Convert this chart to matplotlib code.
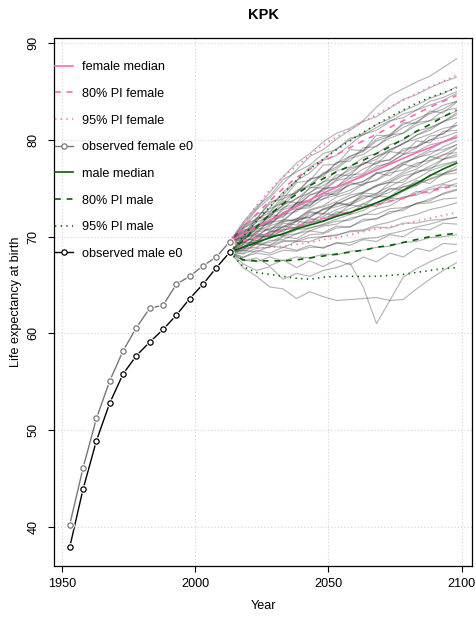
import matplotlib
matplotlib.use("Agg")
import matplotlib.pyplot as plt
from matplotlib.lines import Line2D

# Observed life expectancy at birth (5-year periods)
obs_years = [1953, 1958, 1963, 1968, 1973, 1978, 1983, 1988, 1993, 1998, 2003, 2008, 2013]
female_obs = [40.2, 46.1, 51.2, 55.1, 58.2, 60.6, 62.6, 62.9, 65.1, 65.9, 67.0, 67.9, 69.5]
male_obs = [37.9, 43.9, 48.9, 52.8, 55.8, 57.7, 59.1, 60.4, 61.9, 63.6, 65.1, 66.8, 68.4]

# Projection periods
proj_years = [2013, 2018, 2023, 2028, 2033, 2038, 2043, 2048, 2053,
              2058, 2063, 2068, 2073, 2078, 2083, 2088, 2093, 2098]

female_median = [69.5, 70.3, 71.0, 71.7, 72.4, 73.1, 73.8, 74.5, 75.1,
                 75.7, 76.3, 76.9, 77.5, 78.1, 78.7, 79.2, 79.8, 80.3]
female_80_low = [69.5, 69.6, 69.9, 70.3, 70.7, 71.1, 71.5, 71.9, 72.2,
                 72.6, 73.0, 73.3, 73.7, 74.0, 74.4, 74.7, 75.0, 75.3]
female_80_high = [69.5, 70.9, 72.3, 73.7, 75.0, 76.1, 77.0, 77.8, 78.5,
                  79.2, 79.9, 80.6, 81.3, 82.0, 82.7, 83.4, 84.0, 84.6]
female_95_low = [69.5, 68.9, 68.8, 68.9, 69.0, 69.2, 69.4, 69.7, 69.9,
                 70.2, 70.5, 70.8, 71.0, 71.3, 71.6, 71.9, 72.2, 72.5]
female_95_high = [69.5, 71.4, 73.2, 74.8, 76.2, 77.3, 78.4, 79.5, 80.3,
                  81.1, 81.9, 82.6, 83.4, 84.1, 84.8, 85.5, 86.1, 86.7]

male_median = [68.4, 68.9, 69.4, 69.9, 70.3, 70.8, 71.2, 71.6, 72.1,
               72.5, 73.0, 73.5, 74.1, 74.8, 75.5, 76.3, 77.0, 77.6]
male_80_low = [68.4, 67.6, 67.5, 67.5, 67.5, 67.6, 67.8, 68.0, 68.2,
               68.4, 68.6, 68.9, 69.1, 69.4, 69.7, 70.0, 70.2, 70.35]
male_80_high = [68.4, 69.6, 71.0, 72.3, 73.4, 74.4, 75.3, 76.0, 76.7,
                77.3, 77.9, 78.6, 79.3, 80.1, 80.9, 81.6, 82.4, 83.1]
male_95_low = [68.4, 66.9, 66.3, 66.1, 65.9, 65.7, 65.6, 65.8, 65.9,
               65.9, 65.9, 65.9, 66.0, 66.1, 66.3, 66.5, 66.7, 66.8]
male_95_high = [68.4, 70.0, 71.6, 73.1, 74.5, 75.8, 77.0, 78.0, 79.0,
                79.9, 80.8, 81.6, 82.4, 83.1, 83.8, 84.4, 84.9, 85.4]

# A sample of simulated trajectories (both sexes)
trajectories = [
    [69.5, 71.3, 72.9, 74.6, 76.2, 77.6, 78.6, 79.8, 80.7, 81.2, 82.0, 83.4, 84.6, 85.3, 86.0, 86.6, 87.5, 88.4],
    [69.5, 71.0, 72.8, 74.0, 75.5, 76.9, 78.3, 79.0, 80.1, 81.0, 81.9, 82.4, 83.3, 84.2, 84.7, 85.4, 86.0, 86.5],
    [69.5, 70.8, 71.9, 73.4, 74.3, 75.8, 76.6, 77.9, 78.4, 79.5, 80.6, 81.0, 81.9, 82.7, 83.1, 84.0, 84.4, 85.0],
    [69.5, 70.4, 71.8, 72.5, 73.9, 74.6, 75.9, 76.4, 77.6, 78.3, 78.9, 80.1, 80.6, 81.6, 82.2, 82.8, 83.6, 84.0],
    [69.5, 70.9, 71.6, 72.9, 73.5, 74.8, 75.2, 76.5, 77.0, 78.1, 78.5, 79.4, 80.2, 80.7, 81.5, 82.0, 82.4, 83.0],
    [69.5, 70.2, 71.5, 72.1, 73.3, 73.9, 75.0, 75.6, 76.8, 77.2, 78.2, 78.6, 79.5, 80.0, 80.9, 81.3, 81.9, 82.3],
    [69.5, 70.6, 71.1, 72.4, 72.9, 74.0, 74.5, 75.7, 76.0, 77.1, 77.5, 78.3, 78.8, 79.7, 80.1, 80.6, 81.2, 81.5],
    [69.5, 70.1, 71.2, 71.6, 72.8, 73.2, 74.3, 74.7, 75.8, 76.1, 77.0, 77.6, 78.0, 78.9, 79.3, 80.0, 80.3, 80.8],
    [69.5, 70.5, 70.9, 72.0, 72.3, 73.5, 73.8, 74.9, 75.2, 76.0, 76.4, 77.3, 77.6, 78.5, 78.8, 79.5, 79.8, 80.2],
    [69.5, 69.9, 71.0, 71.3, 72.3, 72.6, 73.6, 73.9, 74.7, 75.3, 75.7, 76.6, 76.9, 77.7, 78.1, 78.8, 79.0, 79.5],
    [69.5, 70.3, 70.6, 71.5, 71.7, 72.8, 73.0, 73.9, 74.3, 74.8, 75.5, 75.8, 76.6, 76.9, 77.6, 77.9, 78.5, 78.7],
    [69.5, 69.7, 70.5, 70.7, 71.6, 71.8, 72.7, 73.1, 73.6, 74.3, 74.6, 75.3, 75.6, 76.3, 76.6, 77.1, 77.5, 77.8],
    [69.5, 70.0, 70.1, 70.9, 71.0, 71.9, 72.0, 72.8, 73.1, 73.5, 74.1, 74.3, 74.9, 75.1, 75.6, 75.9, 76.4, 76.6],
    [69.5, 69.4, 70.0, 70.0, 70.7, 70.9, 71.5, 71.6, 72.3, 72.5, 73.0, 73.3, 73.6, 74.1, 74.3, 74.9, 75.1, 75.5],
    [69.5, 69.8, 69.6, 70.2, 70.1, 70.7, 70.9, 71.2, 71.6, 71.7, 72.3, 72.3, 72.9, 73.0, 73.4, 73.5, 73.9, 74.0],
    [69.5, 69.0, 69.2, 69.1, 69.6, 69.5, 69.9, 70.0, 70.2, 70.5, 70.6, 71.0, 70.9, 71.4, 71.4, 71.7, 71.8, 72.0],
    [69.5, 71.2, 71.8, 73.6, 73.9, 75.6, 75.8, 77.4, 77.5, 79.0, 78.9, 80.5, 80.4, 81.8, 81.7, 83.0, 82.8, 83.9],
    [69.5, 70.0, 71.9, 72.0, 73.7, 73.5, 75.1, 75.0, 76.4, 76.3, 77.7, 77.5, 78.8, 78.6, 79.9, 79.7, 80.9, 81.0],
    [69.5, 70.7, 70.8, 72.3, 72.1, 73.4, 73.2, 74.5, 74.3, 75.6, 75.3, 76.6, 76.3, 77.5, 77.2, 78.3, 78.0, 79.1],
    [69.5, 69.6, 70.9, 70.7, 71.8, 71.6, 72.6, 72.4, 73.5, 73.2, 74.3, 74.0, 75.0, 74.8, 75.8, 75.5, 76.5, 76.9],
    [69.5, 70.9, 72.4, 72.6, 74.2, 74.5, 76.0, 76.2, 77.7, 77.8, 79.2, 79.3, 80.5, 80.7, 81.8, 82.0, 83.0, 83.3],
    [69.5, 70.4, 71.0, 71.4, 72.5, 72.9, 73.4, 74.2, 74.5, 75.4, 75.7, 76.5, 76.9, 77.6, 78.2, 78.5, 79.3, 79.9],
    [69.5, 69.3, 70.3, 70.1, 71.1, 70.9, 71.9, 71.6, 72.6, 72.3, 73.4, 73.1, 74.0, 73.9, 74.7, 74.5, 75.4, 75.2],
    [69.5, 71.5, 73.1, 74.2, 75.9, 76.7, 77.4, 78.6, 79.0, 80.2, 80.5, 81.3, 82.0, 82.3, 83.1, 83.6, 84.1, 84.8],
    [68.4, 69.9, 71.6, 73.0, 74.6, 75.8, 77.2, 78.0, 79.1, 80.0, 80.7, 81.6, 82.2, 83.0, 83.6, 84.3, 84.8, 85.5],
    [68.4, 69.6, 70.8, 72.3, 73.2, 74.6, 75.4, 76.6, 77.2, 78.3, 78.8, 79.9, 80.4, 81.3, 81.9, 82.7, 83.2, 84.0],
    [68.4, 69.2, 70.5, 71.2, 72.5, 73.1, 74.3, 74.9, 75.9, 76.6, 77.5, 78.0, 79.0, 79.6, 80.5, 81.2, 81.9, 82.8],
    [68.4, 69.5, 69.9, 71.1, 71.6, 72.8, 73.2, 74.3, 74.8, 75.7, 76.2, 77.1, 77.7, 78.5, 79.2, 80.0, 80.7, 81.5],
    [68.4, 68.9, 70.0, 70.4, 71.5, 71.8, 72.8, 73.2, 74.1, 74.5, 75.4, 75.9, 76.8, 77.4, 78.3, 79.0, 79.8, 80.5],
    [68.4, 69.2, 69.5, 70.5, 70.8, 71.7, 72.0, 72.9, 73.3, 74.0, 74.6, 75.3, 75.9, 76.7, 77.4, 78.2, 78.8, 79.5],
    [68.4, 68.7, 69.6, 69.8, 70.7, 71.0, 71.7, 72.1, 72.8, 73.3, 73.9, 74.5, 75.2, 75.9, 76.6, 77.3, 78.0, 78.5],
    [68.4, 69.0, 69.2, 70.0, 70.2, 71.0, 71.3, 71.9, 72.4, 72.9, 73.4, 74.1, 74.6, 75.4, 76.0, 76.8, 77.3, 77.8],
    [68.4, 68.5, 69.3, 69.4, 70.1, 70.3, 70.9, 71.3, 71.8, 72.3, 72.7, 73.5, 73.9, 74.7, 75.3, 76.0, 76.5, 77.0],
    [68.4, 68.8, 68.9, 69.6, 69.7, 70.3, 70.6, 71.1, 71.3, 71.9, 72.2, 72.9, 73.2, 74.0, 74.5, 75.1, 75.5, 76.0],
    [68.4, 68.2, 68.8, 68.9, 69.5, 69.6, 70.2, 70.3, 70.9, 71.0, 71.6, 71.9, 72.4, 72.9, 73.4, 73.9, 74.4, 74.8],
    [68.4, 68.6, 68.4, 69.0, 68.9, 69.5, 69.5, 70.0, 70.1, 70.6, 70.7, 71.2, 71.5, 72.0, 72.3, 72.8, 73.1, 73.5],
    [68.4, 67.9, 68.3, 68.1, 68.6, 68.5, 68.9, 68.9, 69.3, 69.4, 69.8, 69.9, 70.3, 70.6, 71.0, 71.3, 71.7, 72.0],
    [68.4, 67.6, 67.4, 67.9, 67.5, 67.9, 67.8, 68.2, 68.1, 68.5, 68.6, 68.9, 69.0, 69.4, 69.5, 69.9, 70.0, 70.2],
    [68.4, 67.2, 66.5, 66.9, 65.6, 66.2, 65.9, 66.5, 66.8, 67.3, 64.8, 61.0, 63.4, 65.8, 66.7, 67.4, 68.0, 68.5],
    [68.4, 66.8, 65.9, 64.8, 64.6, 63.6, 64.3, 63.8, 63.4, 63.5, 63.6, 63.7, 63.4, 63.5, 64.6, 65.6, 66.5, 67.3],
    [68.4, 69.9, 70.3, 71.8, 72.0, 73.5, 73.6, 75.0, 75.1, 76.4, 76.5, 77.8, 77.9, 79.1, 79.3, 80.4, 80.6, 81.8],
    [68.4, 68.6, 70.1, 70.0, 71.4, 71.2, 72.5, 72.3, 73.5, 73.3, 74.5, 74.4, 75.6, 75.6, 76.8, 76.9, 78.0, 78.3],
    [68.4, 69.4, 69.4, 70.6, 70.5, 71.6, 71.4, 72.4, 72.2, 73.3, 73.1, 74.2, 74.1, 75.2, 75.3, 76.4, 76.5, 77.3],
    [68.4, 68.3, 69.3, 69.1, 70.0, 69.8, 70.6, 70.4, 71.1, 71.0, 71.8, 71.8, 72.6, 72.7, 73.5, 73.7, 74.5, 74.9],
    [68.4, 69.7, 71.1, 71.5, 73.0, 73.4, 74.6, 75.3, 76.1, 76.9, 77.5, 78.3, 79.0, 79.6, 80.5, 81.0, 81.9, 82.6],
    [68.4, 67.8, 68.6, 68.3, 68.9, 68.6, 69.1, 68.8, 69.4, 69.1, 69.7, 69.5, 70.2, 70.0, 70.8, 70.7, 71.4, 71.3],
    [68.4, 68.9, 69.8, 70.3, 71.0, 71.6, 72.2, 72.8, 73.4, 74.0, 74.5, 75.2, 75.7, 76.5, 77.0, 77.8, 78.4, 79.2],
    [68.4, 67.5, 67.8, 67.0, 67.6, 66.8, 67.5, 66.9, 67.6, 67.1, 67.9, 67.4, 68.3, 67.9, 68.8, 68.5, 69.3, 69.2],
]

PINK = "#FF69B4"
GREEN = "#006400"
DASHED = (3.5, 3.5)
DOTTED = (0.8, 2.6)


def draw_observed(ax, years, values, color):
    # R type="b": line with gaps around the open circles
    ax.plot(years, values, color=color, lw=1.0, zorder=5)
    ax.plot(years, values, ls="none", marker="o", ms=6.2, mfc="white",
            mec="none", zorder=6)
    ax.plot(years, values, ls="none", marker="o", ms=3.8, mfc="white",
            mec=color, mew=0.9, zorder=7)


def main():
    plt.rcParams["font.family"] = ["Liberation Sans", "DejaVu Sans"]
    plt.rcParams["font.size"] = 9.1

    fig = plt.figure(figsize=(4.77, 6.17), dpi=100)
    ax = fig.add_axes([0.1138, 0.0832, 0.8757, 0.8552])

    # trajectories
    for traj in trajectories:
        ax.plot(proj_years, traj, color="#333333", alpha=0.36, lw=0.85, zorder=2)

    # female projections
    ax.plot(proj_years, female_median, color=PINK, lw=1.2, zorder=4)
    ax.plot(proj_years, female_80_low, color=PINK, lw=1.2, dashes=DASHED, zorder=4)
    ax.plot(proj_years, female_80_high, color=PINK, lw=1.2, dashes=DASHED, zorder=4)
    ax.plot(proj_years, female_95_low, color=PINK, lw=1.2, dashes=DOTTED, zorder=4)
    ax.plot(proj_years, female_95_high, color=PINK, lw=1.2, dashes=DOTTED, zorder=4)

    # male projections
    ax.plot(proj_years, male_median, color=GREEN, lw=1.2, zorder=4)
    ax.plot(proj_years, male_80_low, color=GREEN, lw=1.2, dashes=DASHED, zorder=4)
    ax.plot(proj_years, male_80_high, color=GREEN, lw=1.2, dashes=DASHED, zorder=4)
    ax.plot(proj_years, male_95_low, color=GREEN, lw=1.2, dashes=DOTTED, zorder=4)
    ax.plot(proj_years, male_95_high, color=GREEN, lw=1.2, dashes=DOTTED, zorder=4)

    draw_observed(ax, obs_years, female_obs, "#777777")
    draw_observed(ax, obs_years, male_obs, "black")

    ax.set_xlim(1947.2, 2103.8)
    ax.set_ylim(35.97, 90.55)
    ax.set_xticks([1950, 2000, 2050, 2100])
    ax.set_yticks([40, 50, 60, 70, 80, 90])
    ax.grid(True, color="#d3d3d3", ls=(0, (1, 2)), lw=0.8, zorder=0)
    ax.tick_params(axis="both", length=4.3, width=0.8, labelsize=9.1)
    ax.tick_params(axis="x", pad=4.5)
    ax.tick_params(axis="y", pad=6.5)
    for lab in ax.get_yticklabels():
        lab.set_rotation(90)
        lab.set_va("center")
    for sp in ax.spines.values():
        sp.set_linewidth(0.9)

    ax.set_xlabel("Year", fontsize=9.1, labelpad=7.5)
    ax.set_ylabel("Life expectancy at birth", fontsize=9.1, labelpad=4)
    ax.set_title("KPK", fontsize=10.5, fontweight="bold", pad=14)

    # legend
    handles = [
        Line2D([], [], color=PINK, lw=1.2),
        Line2D([], [], color=PINK, lw=1.2, dashes=DASHED),
        Line2D([], [], color=PINK, lw=1.2, dashes=DOTTED),
        Line2D([], [], color="#777777", lw=1.0, marker="o", ms=3.8, mfc="white", mew=0.9),
        Line2D([], [], color=GREEN, lw=1.2),
        Line2D([], [], color=GREEN, lw=1.2, dashes=DASHED),
        Line2D([], [], color=GREEN, lw=1.2, dashes=DOTTED),
        Line2D([], [], color="black", lw=1.0, marker="o", ms=3.8, mfc="white", mew=0.9),
    ]
    labels = ["female median", "80% PI female", "95% PI female", "observed female e0",
              "male median", "80% PI male", "95% PI male", "observed male e0"]
    ax.legend(handles, labels, loc="upper left", bbox_to_anchor=(0.002, 0.956),
              frameon=False, borderpad=0, borderaxespad=0, handlelength=1.45,
              handletextpad=0.65, labelspacing=1.16, fontsize=9.1)

    fig.savefig("out.png", dpi=100)


if __name__ == "__main__":
    main()
